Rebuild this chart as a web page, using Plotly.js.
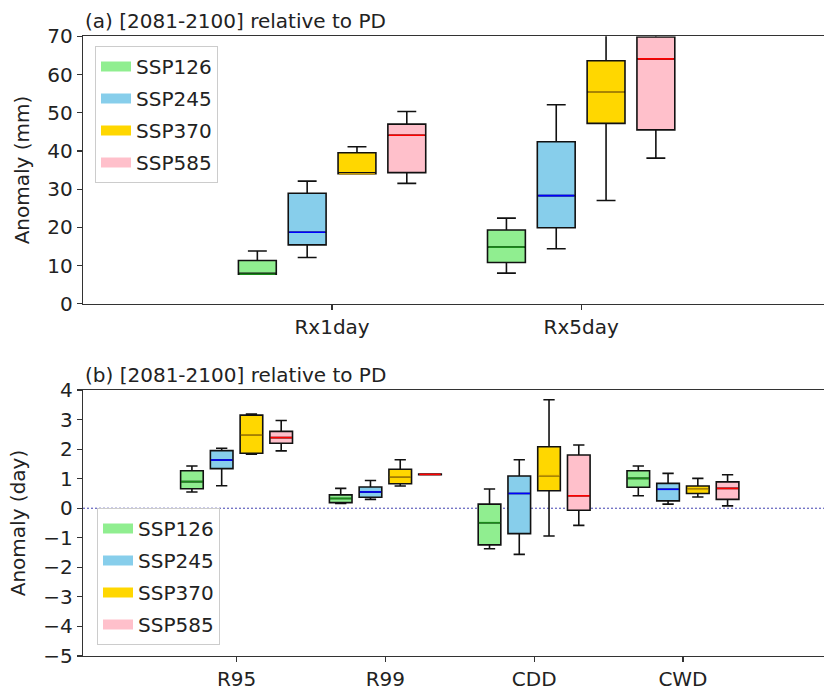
<!DOCTYPE html>
<html>
<head>
<meta charset="utf-8">
<script src="https://cdn.plot.ly/plotly-3.0.1.min.js"></script>
<style>html,body{margin:0;padding:0;background:#fff;}#chart{width:824px;height:696px;}</style>
</head>
<body>
<div id="chart"></div>
<script>
// ---------- data ----------
const scenarios = ['SSP126', 'SSP245', 'SSP370', 'SSP585'];
const topCategories = ['Rx1day', 'Rx5day'];
const bottomCategories = ['R95', 'R99', 'CDD', 'CWD'];

// panel (a): rows = scenarios, columns = topCategories (mm)
const topLower = [[7.7, 8.0], [12.1, 14.4], [34.0, 27.0], [31.5, 38.1]];
const topQ1    = [[7.7, 10.8], [15.4, 19.9], [34.0, 47.2], [34.3, 45.5]];
const topMed   = [[7.7, 14.8], [18.7, 28.3], [34.0, 55.4], [44.1, 64.1]];
const topQ3    = [[11.3, 19.3], [28.9, 42.4], [39.5, 63.6], [47.0, 69.8]];
const topUpper = [[13.8, 22.4], [32.1, 52.1], [41.1, 76.0], [50.3, 78.0]];

// panel (b): rows = scenarios, columns = bottomCategories (day)
const botLower = [[0.55, 0.16, -1.37, 0.42], [0.76, 0.30, -1.56, 0.14], [1.83, 0.75, -0.94, 0.38], [1.94, 1.13, -0.58, 0.08]];
const botQ1    = [[0.66, 0.19, -1.24, 0.71], [1.34, 0.37, -0.86, 0.25], [1.86, 0.83, 0.59, 0.50], [2.20, 1.13, -0.07, 0.30]];
const botMed   = [[0.90, 0.33, -0.49, 1.01], [1.63, 0.55, 0.50, 0.64], [2.48, 1.06, 1.10, 0.64], [2.39, 1.145, 0.42, 0.67]];
const botQ3    = [[1.27, 0.45, 0.14, 1.27], [1.95, 0.72, 1.09, 0.84], [3.15, 1.32, 2.08, 0.75], [2.60, 1.16, 1.80, 0.89]];
const botUpper = [[1.43, 0.67, 0.65, 1.43], [2.03, 0.94, 1.64, 1.18], [3.19, 1.64, 3.67, 1.01], [2.97, 1.16, 2.14, 1.13]];

// ---------- styles ----------
const fillColors = ['#90EE90', '#87CEEB', '#FFD700', '#FFC0CB'];
const medianColors = ['#1a8a1a', '#0000ff', '#c89b00', '#ff0000'];
const FONT = 'DejaVu Sans, sans-serif';
const TXT = '#222222';
const FS = 20;

// positions: category index + scenario offset
const offsets = [-0.3, -0.1, 0.1, 0.3];
const boxWidth = 0.152;
const pos = (i, j) => (i + 1) + offsets[j];

const traces = [];

function addBoxes(cats, lower, q1, med, q3, upper, xa, ya) {
  scenarios.forEach((s, j) => {
    traces.push({
      type: 'box', name: s, xaxis: xa, yaxis: ya,
      x: cats.map((c, i) => pos(i, j)),
      lowerfence: lower[j], q1: q1[j], median: med[j], q3: q3[j], upperfence: upper[j],
      width: boxWidth, whiskerwidth: 0.5, boxpoints: false,
      fillcolor: fillColors[j], line: {color: '#111111', width: 1.6},
      showlegend: false, hoverinfo: 'skip'
    });
  });
  scenarios.forEach((s, j) => {
    const xs = [], ys = [];
    cats.forEach((c, i) => {
      const p = pos(i, j);
      xs.push(p - boxWidth / 2 + 0.004, p + boxWidth / 2 - 0.004, null);
      ys.push(med[j][i], med[j][i], null);
    });
    traces.push({
      type: 'scatter', mode: 'lines', xaxis: xa, yaxis: ya, x: xs, y: ys,
      line: {color: medianColors[j], width: 1.6}, showlegend: false, hoverinfo: 'skip'
    });
  });
}

addBoxes(topCategories, topLower, topQ1, topMed, topQ3, topUpper, 'x', 'y');
addBoxes(bottomCategories, botLower, botQ1, botMed, botQ3, botUpper, 'x2', 'y2');

// legend entries (patch swatches)
['legend', 'legend2'].forEach((lg, k) => {
  scenarios.forEach((s, j) => {
    traces.push({
      type: 'scatter', mode: 'lines', name: s, x: [null], y: [null],
      xaxis: k === 0 ? 'x' : 'x2', yaxis: k === 0 ? 'y' : 'y2',
      line: {color: fillColors[j], width: 10},
      legend: lg, legendgroup: lg + s, showlegend: true, hoverinfo: 'skip'
    });
  });
});

const W = 824, H = 696;
const xDom = [83 / W, 1];
const axisCommon = {
  showline: true, linecolor: '#333333', linewidth: 1.3,
  ticks: 'outside', ticklen: 5, tickwidth: 1.2, tickcolor: '#333333',
  showgrid: false, zeroline: false, automargin: false,
  tickfont: {family: FONT, size: FS, color: TXT}
};

const legendCommon = {
  xanchor: 'left', yanchor: 'top',
  bgcolor: 'rgba(255,255,255,0.8)', bordercolor: '#cccccc', borderwidth: 1,
  font: {family: FONT, size: FS, color: TXT},
  traceorder: 'grouped', tracegroupgap: 3, itemwidth: 30
};

const layout = {
  width: W, height: H,
  margin: {l: 0, r: 0, t: 0, b: 0},
  paper_bgcolor: '#ffffff', plot_bgcolor: '#ffffff',
  showlegend: true,
  font: {family: FONT, size: FS, color: TXT},
  xaxis: Object.assign({}, axisCommon, {
    domain: xDom, anchor: 'y', range: [0, 2.975], mirror: true,
    tickvals: topCategories.map((c, i) => i + 1), ticktext: topCategories
  }),
  yaxis: Object.assign({}, axisCommon, {
    domain: [(H - 303.7) / H, (H - 36.3) / H], anchor: 'x', range: [0, 70], dtick: 10, tick0: 0,
    title: {text: 'Anomaly (mm)', standoff: 12, font: {family: FONT, size: FS, color: TXT}}
  }),
  xaxis2: Object.assign({}, axisCommon, {
    domain: xDom, anchor: 'y2', range: [-0.032, 4.948], mirror: true,
    tickvals: bottomCategories.map((c, i) => i + 1), ticktext: bottomCategories
  }),
  yaxis2: Object.assign({}, axisCommon, {
    domain: [(H - 656) / H, (H - 390) / H], anchor: 'x2', range: [-5, 4], dtick: 1, tick0: 0,
    title: {text: 'Anomaly (day)', standoff: 12, font: {family: FONT, size: FS, color: TXT}}
  }),
  boxmode: 'overlay',
  legend: Object.assign({}, legendCommon, {x: 95 / W, y: (H - 46) / H}),
  legend2: Object.assign({}, legendCommon, {x: 97 / W, y: (H - 508) / H}),
  shapes: [{
    type: 'line', xref: 'x2 domain', x0: 0, x1: 1, yref: 'y2', y0: 0, y1: 0,
    line: {color: '#4040b0', width: 1, dash: '2px,2px'}, layer: 'below'
  }],
  annotations: [
    {text: '(a) [2081-2100] relative to PD', xref: 'paper', yref: 'paper', x: 83 / W, y: (H - 36.3) / H,
     xanchor: 'left', yanchor: 'bottom', yshift: 1, showarrow: false, font: {family: FONT, size: FS, color: TXT}},
    {text: '(b) [2081-2100] relative to PD', xref: 'paper', yref: 'paper', x: 83 / W, y: (H - 390) / H,
     xanchor: 'left', yanchor: 'bottom', yshift: 1, showarrow: false, font: {family: FONT, size: FS, color: TXT}}
  ]
};

Plotly.newPlot('chart', traces, layout, {displayModeBar: false, staticPlot: true});
</script>
</body>
</html>
